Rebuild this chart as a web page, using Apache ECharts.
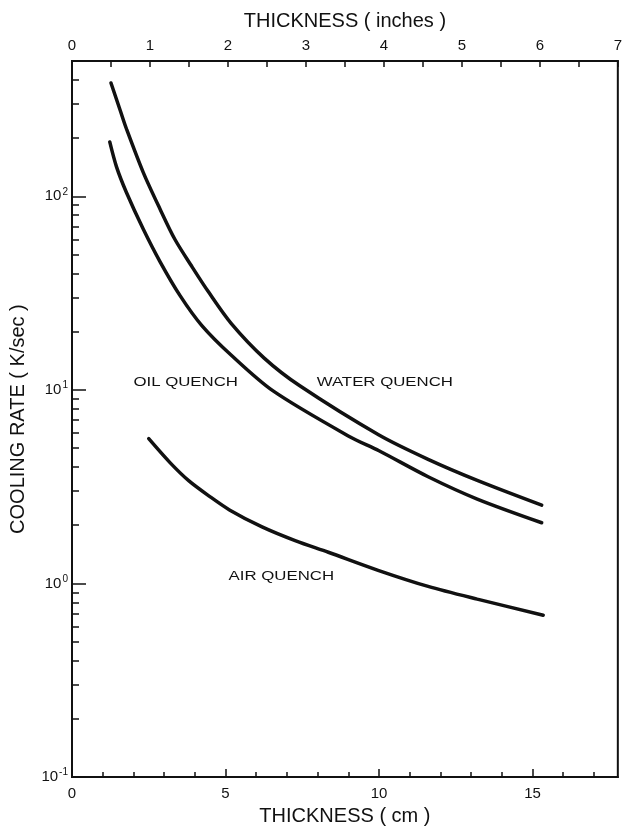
<!DOCTYPE html>
<html>
<head>
<meta charset="utf-8">
<script src="https://cdn.jsdelivr.net/npm/echarts@6/dist/echarts.min.js"></script>
<style>
  html, body { margin: 0; padding: 0; background: #fff; }
  #chart { width: 625px; height: 831px; }
</style>
</head>
<body>
<div id="chart"></div>
<script>
// Cooling rate (K/s) against plate thickness (cm) for three quench media.
const waterThickness = [1.27, 1.58, 1.77, 2.32, 2.87, 3.35, 3.90, 4.45, 5.19, 6.26, 7.42, 10.0, 11.6, 13.2, 15.3];
const waterRate      = [385, 275, 224, 133, 85.8, 60, 43.5, 32, 22, 14.6, 10.5, 5.85, 4.38, 3.41, 2.54];

const oilThickness = [1.23, 1.45, 1.77, 2.32, 2.87, 3.52, 4.23, 5.19, 6.55, 9.03, 10.0, 11.6, 13.2, 15.3];
const oilRate      = [191, 142, 105, 67.8, 45.9, 30.7, 21.5, 15.1, 9.88, 5.75, 4.85, 3.56, 2.73, 2.06];

const airThickness = [2.5, 3.2, 3.8, 4.48, 5.13, 6.19, 7.29, 8.35, 9.97, 11.6, 13.2, 15.35];
const airRate      = [5.6, 4.2, 3.4, 2.82, 2.40, 1.96, 1.66, 1.45, 1.17, 0.966, 0.83, 0.686];

// Axis ticks and labels
const CM_PER_INCH = 2.54;
const inchMax = 7;
const inchTicks = [0, 0.5, 1, 1.5, 2, 2.5, 3, 3.5, 4, 4.5, 5, 5.5, 6, 6.5, 7];
const inchLabels = [0, 1, 2, 3, 4, 5, 6, 7];
const cmMajorTicks = [0, 5, 10, 15];
const cmMinorTicks = [1, 2, 3, 4, 6, 7, 8, 9, 11, 12, 13, 14, 16, 17];
const rateDecades = [0.1, 1, 10, 100];
const rateMin = 0.1;
const rateMax = 500;

// In-plot curve labels: [thickness cm, rate K/s] of the left end of each text
const curveLabels = [
  { text: 'OIL QUENCH',   at: [2.0, 10.9] },
  { text: 'WATER QUENCH', at: [7.97, 10.9] },
  { text: 'AIR QUENCH',   at: [5.1, 1.09] }
];

const FONT = '"Liberation Sans", Arial, Helvetica, sans-serif';
const INK = '#111';

const cmMax = inchMax * CM_PER_INCH;
const log10 = v => Math.log10(v);

// minor log ticks (2..9 within each decade, below the top of the frame)
const rateMinorTicks = [];
rateDecades.forEach(d => {
  for (let k = 2; k <= 9; k++) {
    const v = k * d;
    if (v < rateMax) rateMinorTicks.push(log10(v));
  }
});

const pairs = (xs, ys) => xs.map((x, i) => [x, ys[i]]);

const chart = echarts.init(document.getElementById('chart'), null, { renderer: 'canvas' });

const lineSeries = (name, xs, ys) => ({
  name: name,
  type: 'line',
  xAxisIndex: 0,
  yAxisIndex: 0,
  data: pairs(xs, ys),
  smooth: 0.3,
  symbol: 'none',
  lineStyle: { color: INK, width: 3.5, cap: 'round' },
  z: 5
});

const option = {
  animation: false,
  backgroundColor: '#fff',
  grid: {
    left: 70, right: 4, top: 61, bottom: 49,
    show: true, borderColor: INK, borderWidth: 2, backgroundColor: 'transparent'
  },
  xAxis: [
    {
      type: 'value', position: 'bottom', min: 0, max: cmMax,
      name: 'THICKNESS ( cm )', nameLocation: 'middle', nameGap: 28,
      nameTextStyle: { fontFamily: FONT, fontSize: 20, color: INK },
      axisLine: { show: true, onZero: false, lineStyle: { color: INK, width: 2 } },
      axisTick: { show: true, inside: true, length: 8, customValues: cmMajorTicks, lineStyle: { color: INK, width: 1.5 } },
      axisLabel: { show: true, customValues: cmMajorTicks, fontFamily: FONT, fontSize: 15, color: INK, margin: 9 },
      splitLine: { show: false }
    },
    {
      type: 'value', position: 'bottom', min: 0, max: cmMax,
      axisLine: { show: false, onZero: false },
      axisTick: { show: true, inside: true, length: 5, customValues: cmMinorTicks, lineStyle: { color: INK, width: 1.5 } },
      axisLabel: { show: false },
      splitLine: { show: false }
    },
    {
      type: 'value', position: 'top', min: 0, max: inchMax,
      name: 'THICKNESS ( inches )', nameLocation: 'middle', nameGap: 30,
      nameTextStyle: { fontFamily: FONT, fontSize: 20, color: INK },
      axisLine: { show: true, onZero: false, lineStyle: { color: INK, width: 2 } },
      axisTick: { show: true, inside: true, length: 6, customValues: inchTicks, lineStyle: { color: INK, width: 1.5 } },
      axisLabel: { show: true, customValues: inchLabels, fontFamily: FONT, fontSize: 15, color: INK, margin: 8 },
      splitLine: { show: false }
    }
  ],
  yAxis: [
    {
      // data axis for the curves
      type: 'log', logBase: 10, min: rateMin, max: rateMax, position: 'left',
      axisLine: { show: false }, axisTick: { show: false }, axisLabel: { show: false },
      splitLine: { show: false }
    },
    {
      // decade ticks and labels, drawn in log10 space
      type: 'value', position: 'left', min: log10(rateMin), max: log10(rateMax),
      name: 'COOLING RATE ( K/sec )', nameLocation: 'middle', nameGap: 44, nameRotate: 90,
      nameTextStyle: { fontFamily: FONT, fontSize: 20, color: INK },
      axisLine: { show: true, onZero: false, lineStyle: { color: INK, width: 2 } },
      axisTick: { show: true, inside: true, length: 14, customValues: rateDecades.map(log10), lineStyle: { color: INK, width: 1.5 } },
      axisLabel: {
        show: true, customValues: rateDecades.map(log10), margin: 4,
        formatter: v => {
          const e = Math.round(v);
          return '{b|10}{e|' + (e < 0 ? '-' + (-e) : e) + '}';
        },
        rich: {
          b: { fontFamily: FONT, fontSize: 15, color: INK },
          e: { fontFamily: FONT, fontSize: 10, color: INK, padding: [0, 0, 9, 1] }
        }
      },
      splitLine: { show: false }
    },
    {
      // minor ticks at 2..9 of each decade
      type: 'value', position: 'left', min: log10(rateMin), max: log10(rateMax),
      axisLine: { show: false, onZero: false },
      axisTick: { show: true, inside: true, length: 7, customValues: rateMinorTicks, lineStyle: { color: INK, width: 1.5 } },
      axisLabel: { show: false },
      splitLine: { show: false }
    }
  ],
  series: [
    lineSeries('WATER QUENCH', waterThickness, waterRate),
    lineSeries('OIL QUENCH', oilThickness, oilRate),
    lineSeries('AIR QUENCH', airThickness, airRate)
  ]
};

chart.setOption(option);

// curve labels placed through the chart's own axes
chart.setOption({
  graphic: curveLabels.map(l => {
    const p = chart.convertToPixel({ xAxisIndex: 0, yAxisIndex: 0 }, l.at);
    return {
      type: 'text',
      x: p[0], y: p[1],
      scaleX: 1.4,
      z: 10,
      style: {
        text: l.text, fill: INK,
        font: '12px ' + FONT,
        textAlign: 'left', textVerticalAlign: 'middle',
        align: 'left', verticalAlign: 'middle'
      }
    };
  })
});
</script>
</body>
</html>
